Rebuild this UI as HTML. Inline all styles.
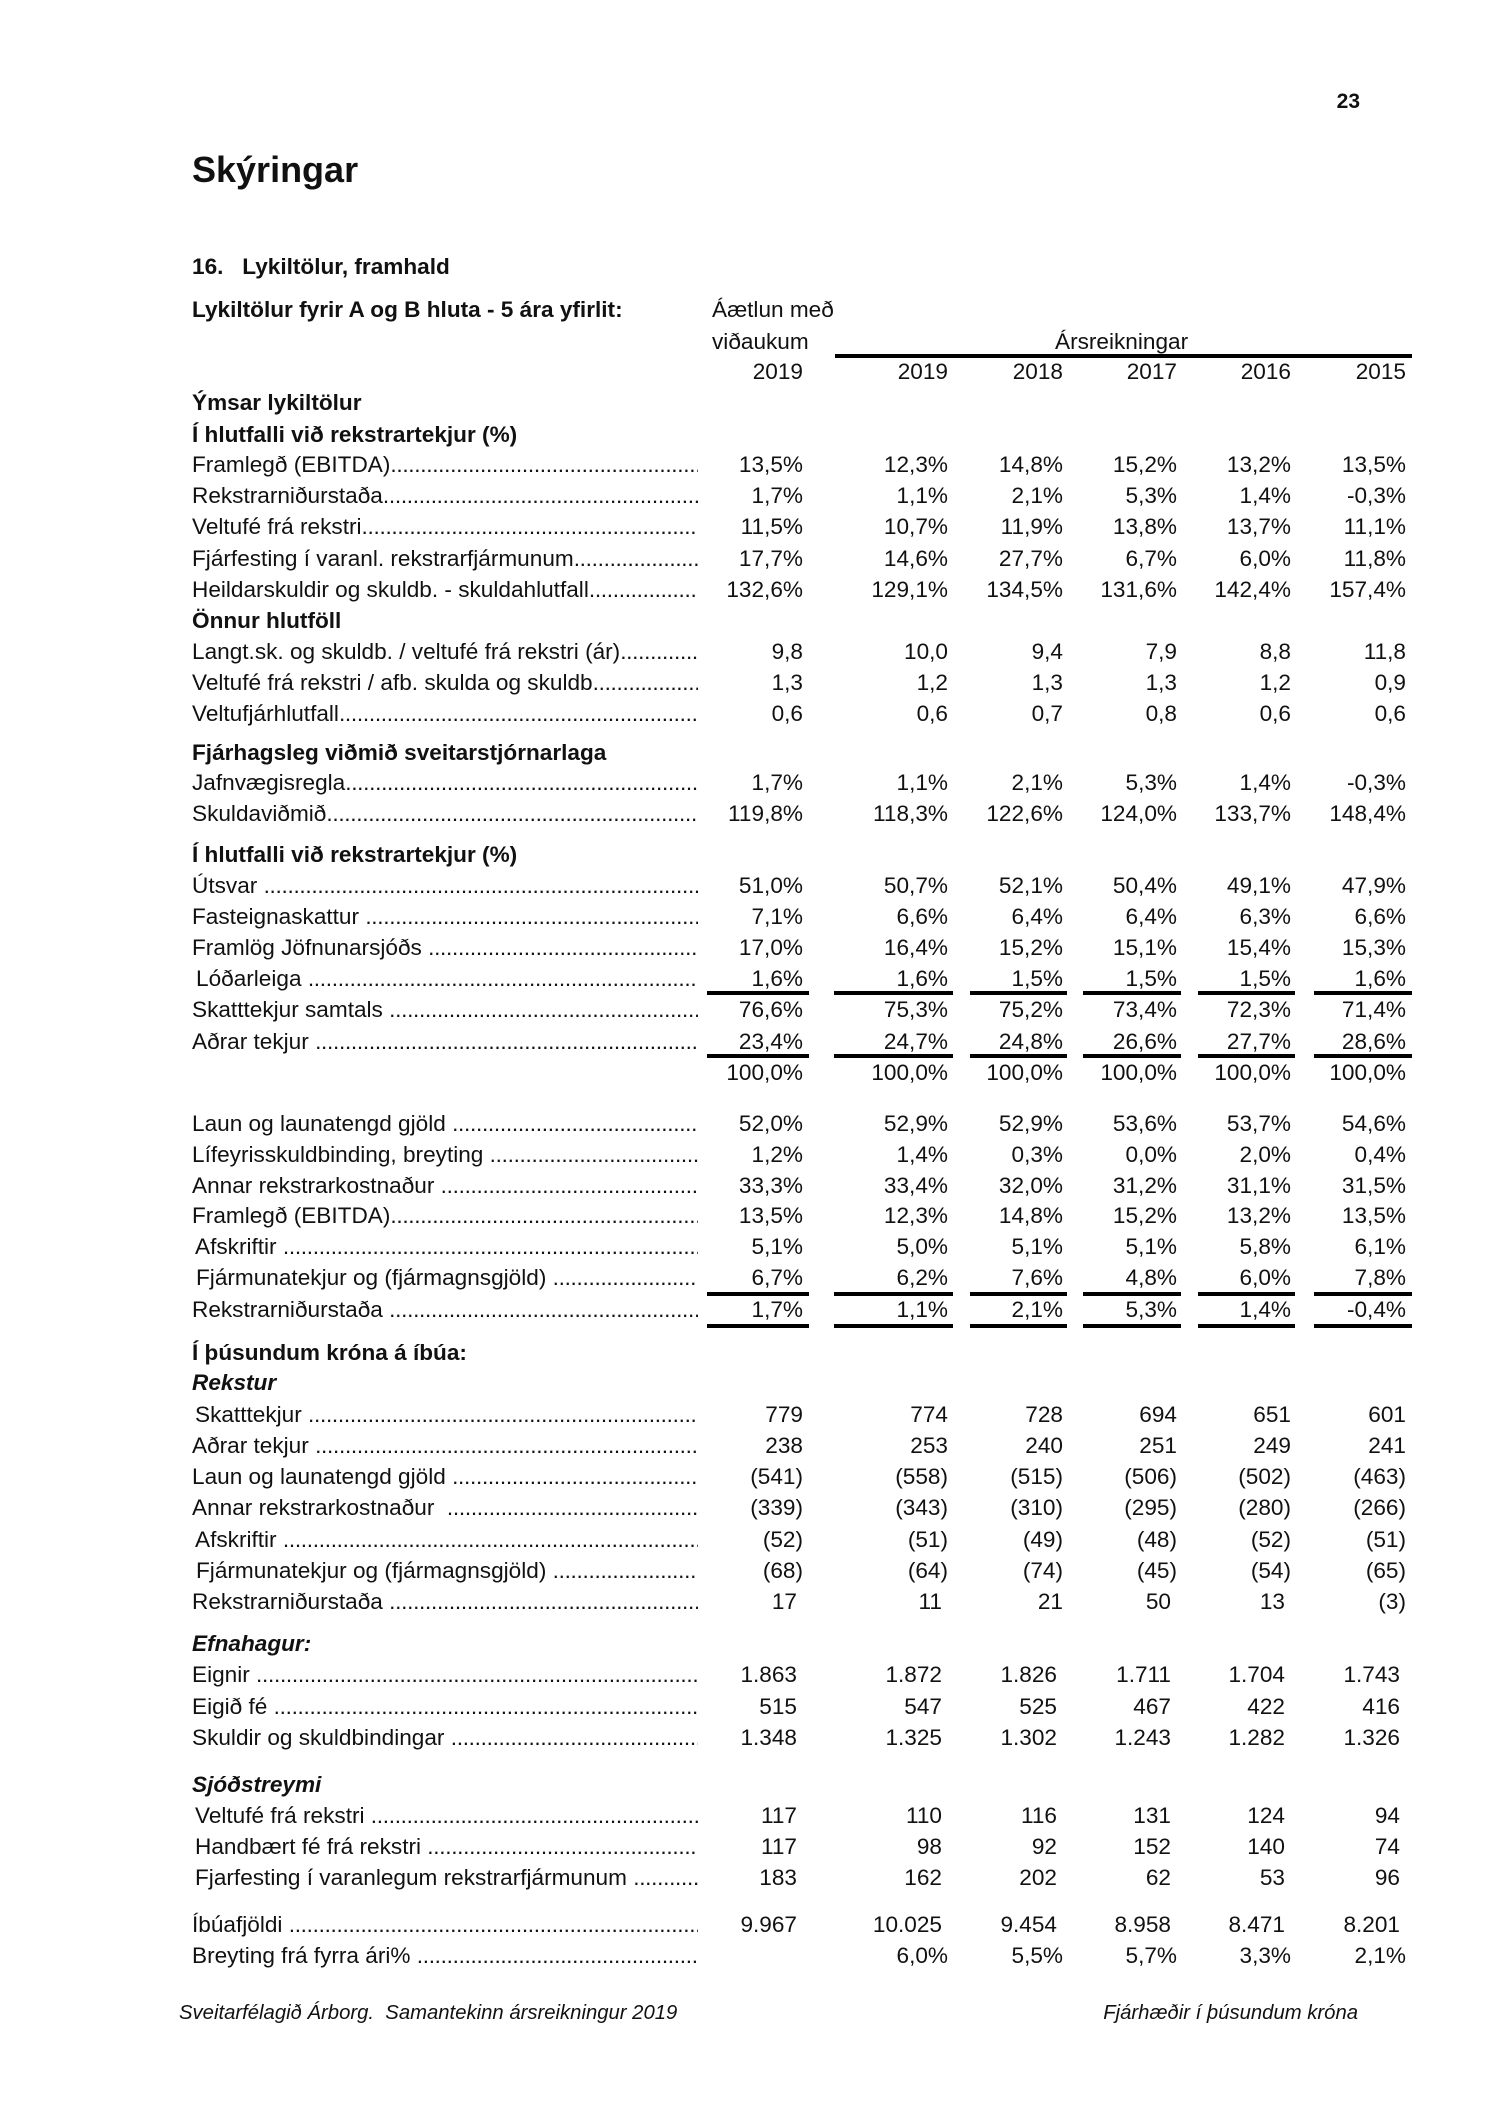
<!DOCTYPE html>
<html><head><meta charset="utf-8"><style>
body{margin:0;background:#fff}
#p{position:relative;width:1500px;height:2122px;background:#fff;font-family:"Liberation Sans",Arial,sans-serif;color:#111;overflow:hidden}
.r{position:absolute;left:0;width:1500px;height:26px;line-height:26px;font-size:22.6px;white-space:nowrap}
.l{position:absolute;left:192px;width:506px;overflow:hidden}
.d::after{content:"................................................................................................................................................................................";letter-spacing:-0.3px}
.b{font-weight:bold;font-size:22.6px}
.bi{font-weight:bold;font-style:italic;font-size:22.6px}
.n{position:absolute}
.c1{right:697px}.c2{right:552px}.c3{right:437px}.c4{right:323px}.c5{right:209px}.c6{right:94px}
.u{position:absolute;height:3.5px;background:#000}
</style></head><body><div id="p">
<div class="r" style="top:89px;font-weight:bold;font-size:21px"><span class="n" style="right:140px">23</span></div>
<div class="r" style="top:150px;height:40px;line-height:40px;font-size:36px;font-weight:bold"><span class="l">Skýringar</span></div>
<div class="r b" style="top:254px"><span class="l">16.&nbsp;&nbsp; Lykiltölur, framhald</span></div>
<div class="r" style="top:297px"><span class="l b">Lykiltölur fyrir A og B hluta - 5 ára yfirlit:</span><span class="n" style="left:712px">Áætlun með</span></div>
<div class="r" style="top:329px"><span class="n" style="left:712px">viðaukum</span><span class="n" style="left:1055px">Ársreikningar</span></div>
<div class="u" style="top:354px;left:835px;width:577px"></div>
<div class="r" style="top:359px"><span class="n c1">2019</span><span class="n c2">2019</span><span class="n c3">2018</span><span class="n c4">2017</span><span class="n c5">2016</span><span class="n c6">2015</span></div>

<div class="r" style="top:390px"><span class="l b">Ýmsar lykiltölur</span></div>
<div class="r" style="top:422px"><span class="l b">Í hlutfalli við rekstrartekjur (%)</span></div>
<div class="r" style="top:452px"><span class="l d">Framlegð (EBITDA)</span><span class="n c1">13,5%</span><span class="n c2">12,3%</span><span class="n c3">14,8%</span><span class="n c4">15,2%</span><span class="n c5">13,2%</span><span class="n c6">13,5%</span></div>
<div class="r" style="top:483px"><span class="l d">Rekstrarniðurstaða</span><span class="n c1">1,7%</span><span class="n c2">1,1%</span><span class="n c3">2,1%</span><span class="n c4">5,3%</span><span class="n c5">1,4%</span><span class="n c6">-0,3%</span></div>
<div class="r" style="top:514px"><span class="l d">Veltufé frá rekstri</span><span class="n c1">11,5%</span><span class="n c2">10,7%</span><span class="n c3">11,9%</span><span class="n c4">13,8%</span><span class="n c5">13,7%</span><span class="n c6">11,1%</span></div>
<div class="r" style="top:546px"><span class="l d">Fjárfesting í varanl. rekstrarfjármunum</span><span class="n c1">17,7%</span><span class="n c2">14,6%</span><span class="n c3">27,7%</span><span class="n c4">6,7%</span><span class="n c5">6,0%</span><span class="n c6">11,8%</span></div>
<div class="r" style="top:577px"><span class="l d">Heildarskuldir og skuldb. - skuldahlutfall</span><span class="n c1">132,6%</span><span class="n c2">129,1%</span><span class="n c3">134,5%</span><span class="n c4">131,6%</span><span class="n c5">142,4%</span><span class="n c6">157,4%</span></div>
<div class="r" style="top:608px"><span class="l b">Önnur hlutföll</span></div>
<div class="r" style="top:639px"><span class="l d">Langt.sk. og skuldb. / veltufé frá rekstri (ár)</span><span class="n c1">9,8</span><span class="n c2">10,0</span><span class="n c3">9,4</span><span class="n c4">7,9</span><span class="n c5">8,8</span><span class="n c6">11,8</span></div>
<div class="r" style="top:670px"><span class="l d">Veltufé frá rekstri / afb. skulda og skuldb</span><span class="n c1">1,3</span><span class="n c2">1,2</span><span class="n c3">1,3</span><span class="n c4">1,3</span><span class="n c5">1,2</span><span class="n c6">0,9</span></div>
<div class="r" style="top:701px"><span class="l d">Veltufjárhlutfall</span><span class="n c1">0,6</span><span class="n c2">0,6</span><span class="n c3">0,7</span><span class="n c4">0,8</span><span class="n c5">0,6</span><span class="n c6">0,6</span></div>
<div class="r" style="top:740px"><span class="l b">Fjárhagsleg viðmið sveitarstjórnarlaga</span></div>
<div class="r" style="top:770px"><span class="l d">Jafnvægisregla</span><span class="n c1">1,7%</span><span class="n c2">1,1%</span><span class="n c3">2,1%</span><span class="n c4">5,3%</span><span class="n c5">1,4%</span><span class="n c6">-0,3%</span></div>
<div class="r" style="top:801px"><span class="l d">Skuldaviðmið</span><span class="n c1">119,8%</span><span class="n c2">118,3%</span><span class="n c3">122,6%</span><span class="n c4">124,0%</span><span class="n c5">133,7%</span><span class="n c6">148,4%</span></div>
<div class="r" style="top:842px"><span class="l b">Í hlutfalli við rekstrartekjur (%)</span></div>
<div class="r" style="top:873px"><span class="l d">Útsvar </span><span class="n c1">51,0%</span><span class="n c2">50,7%</span><span class="n c3">52,1%</span><span class="n c4">50,4%</span><span class="n c5">49,1%</span><span class="n c6">47,9%</span></div>
<div class="r" style="top:904px"><span class="l d">Fasteignaskattur </span><span class="n c1">7,1%</span><span class="n c2">6,6%</span><span class="n c3">6,4%</span><span class="n c4">6,4%</span><span class="n c5">6,3%</span><span class="n c6">6,6%</span></div>
<div class="r" style="top:935px"><span class="l d">Framlög Jöfnunarsjóðs </span><span class="n c1">17,0%</span><span class="n c2">16,4%</span><span class="n c3">15,2%</span><span class="n c4">15,1%</span><span class="n c5">15,4%</span><span class="n c6">15,3%</span></div>
<div class="r" style="top:966px"><span class="l d" style="left:196px;width:502px">Lóðarleiga </span><span class="n c1">1,6%</span><span class="n c2">1,6%</span><span class="n c3">1,5%</span><span class="n c4">1,5%</span><span class="n c5">1,5%</span><span class="n c6">1,6%</span></div>
<div class="u" style="top:991px;left:707px;width:102px"></div><div class="u" style="top:991px;left:834px;width:119px"></div><div class="u" style="top:991px;left:970px;width:97px"></div><div class="u" style="top:991px;left:1083px;width:98px"></div><div class="u" style="top:991px;left:1198px;width:97px"></div><div class="u" style="top:991px;left:1314px;width:98px"></div>
<div class="r" style="top:997px"><span class="l d">Skatttekjur samtals </span><span class="n c1">76,6%</span><span class="n c2">75,3%</span><span class="n c3">75,2%</span><span class="n c4">73,4%</span><span class="n c5">72,3%</span><span class="n c6">71,4%</span></div>
<div class="r" style="top:1029px"><span class="l d">Aðrar tekjur </span><span class="n c1">23,4%</span><span class="n c2">24,7%</span><span class="n c3">24,8%</span><span class="n c4">26,6%</span><span class="n c5">27,7%</span><span class="n c6">28,6%</span></div>
<div class="u" style="top:1054px;left:707px;width:102px"></div><div class="u" style="top:1054px;left:834px;width:119px"></div><div class="u" style="top:1054px;left:970px;width:97px"></div><div class="u" style="top:1054px;left:1083px;width:98px"></div><div class="u" style="top:1054px;left:1198px;width:97px"></div><div class="u" style="top:1054px;left:1314px;width:98px"></div>
<div class="r" style="top:1060px"><span class="n c1">100,0%</span><span class="n c2">100,0%</span><span class="n c3">100,0%</span><span class="n c4">100,0%</span><span class="n c5">100,0%</span><span class="n c6">100,0%</span></div>
<div class="r" style="top:1111px"><span class="l d">Laun og launatengd gjöld </span><span class="n c1">52,0%</span><span class="n c2">52,9%</span><span class="n c3">52,9%</span><span class="n c4">53,6%</span><span class="n c5">53,7%</span><span class="n c6">54,6%</span></div>
<div class="r" style="top:1142px"><span class="l d">Lífeyrisskuldbinding, breyting </span><span class="n c1">1,2%</span><span class="n c2">1,4%</span><span class="n c3">0,3%</span><span class="n c4">0,0%</span><span class="n c5">2,0%</span><span class="n c6">0,4%</span></div>
<div class="r" style="top:1173px"><span class="l d">Annar rekstrarkostnaður </span><span class="n c1">33,3%</span><span class="n c2">33,4%</span><span class="n c3">32,0%</span><span class="n c4">31,2%</span><span class="n c5">31,1%</span><span class="n c6">31,5%</span></div>
<div class="r" style="top:1203px"><span class="l d">Framlegð (EBITDA)</span><span class="n c1">13,5%</span><span class="n c2">12,3%</span><span class="n c3">14,8%</span><span class="n c4">15,2%</span><span class="n c5">13,2%</span><span class="n c6">13,5%</span></div>
<div class="r" style="top:1234px"><span class="l d" style="left:195px;width:503px">Afskriftir </span><span class="n c1">5,1%</span><span class="n c2">5,0%</span><span class="n c3">5,1%</span><span class="n c4">5,1%</span><span class="n c5">5,8%</span><span class="n c6">6,1%</span></div>
<div class="r" style="top:1265px"><span class="l d" style="left:196px;width:502px">Fjármunatekjur og (fjármagnsgjöld) </span><span class="n c1">6,7%</span><span class="n c2">6,2%</span><span class="n c3">7,6%</span><span class="n c4">4,8%</span><span class="n c5">6,0%</span><span class="n c6">7,8%</span></div>
<div class="u" style="top:1292px;left:707px;width:102px"></div><div class="u" style="top:1292px;left:834px;width:119px"></div><div class="u" style="top:1292px;left:970px;width:97px"></div><div class="u" style="top:1292px;left:1083px;width:98px"></div><div class="u" style="top:1292px;left:1198px;width:97px"></div><div class="u" style="top:1292px;left:1314px;width:98px"></div>
<div class="r" style="top:1297px"><span class="l d">Rekstrarniðurstaða </span><span class="n c1">1,7%</span><span class="n c2">1,1%</span><span class="n c3">2,1%</span><span class="n c4">5,3%</span><span class="n c5">1,4%</span><span class="n c6">-0,4%</span></div>
<div class="u" style="top:1324px;left:707px;width:102px"></div><div class="u" style="top:1324px;left:834px;width:119px"></div><div class="u" style="top:1324px;left:970px;width:97px"></div><div class="u" style="top:1324px;left:1083px;width:98px"></div><div class="u" style="top:1324px;left:1198px;width:97px"></div><div class="u" style="top:1324px;left:1314px;width:98px"></div>

<div class="r" style="top:1340px"><span class="l b">Í þúsundum króna á íbúa:</span></div>
<div class="r" style="top:1370px"><span class="l bi">Rekstur</span></div>
<div class="r" style="top:1402px"><span class="l d" style="left:195px;width:503px">Skatttekjur </span><span class="n c1">779</span><span class="n c2">774</span><span class="n c3">728</span><span class="n c4">694</span><span class="n c5">651</span><span class="n c6">601</span></div>
<div class="r" style="top:1433px"><span class="l d">Aðrar tekjur </span><span class="n c1">238</span><span class="n c2">253</span><span class="n c3">240</span><span class="n c4">251</span><span class="n c5">249</span><span class="n c6">241</span></div>
<div class="r" style="top:1464px"><span class="l d">Laun og launatengd gjöld </span><span class="n c1">(541)</span><span class="n c2">(558)</span><span class="n c3">(515)</span><span class="n c4">(506)</span><span class="n c5">(502)</span><span class="n c6">(463)</span></div>
<div class="r" style="top:1495px"><span class="l d">Annar rekstrarkostnaður &nbsp;</span><span class="n c1">(339)</span><span class="n c2">(343)</span><span class="n c3">(310)</span><span class="n c4">(295)</span><span class="n c5">(280)</span><span class="n c6">(266)</span></div>
<div class="r" style="top:1527px"><span class="l d" style="left:195px;width:503px">Afskriftir </span><span class="n c1">(52)</span><span class="n c2">(51)</span><span class="n c3">(49)</span><span class="n c4">(48)</span><span class="n c5">(52)</span><span class="n c6">(51)</span></div>
<div class="r" style="top:1558px"><span class="l d" style="left:196px;width:502px">Fjármunatekjur og (fjármagnsgjöld) </span><span class="n c1">(68)</span><span class="n c2">(64)</span><span class="n c3">(74)</span><span class="n c4">(45)</span><span class="n c5">(54)</span><span class="n c6">(65)</span></div>
<div class="r" style="top:1589px"><span class="l d">Rekstrarniðurstaða </span><span class="n c1" style="right:703px">17</span><span class="n c2" style="right:558px">11</span><span class="n c3">21</span><span class="n c4" style="right:329px">50</span><span class="n c5" style="right:215px">13</span><span class="n c6">(3)</span></div>
<div class="r" style="top:1631px"><span class="l bi">Efnahagur:</span></div>
<div class="r" style="top:1662px"><span class="l d">Eignir </span><span class="n c1" style="right:703px">1.863</span><span class="n c2" style="right:558px">1.872</span><span class="n c3" style="right:443px">1.826</span><span class="n c4" style="right:329px">1.711</span><span class="n c5" style="right:215px">1.704</span><span class="n c6" style="right:100px">1.743</span></div>
<div class="r" style="top:1694px"><span class="l d">Eigið fé </span><span class="n c1" style="right:703px">515</span><span class="n c2" style="right:558px">547</span><span class="n c3" style="right:443px">525</span><span class="n c4" style="right:329px">467</span><span class="n c5" style="right:215px">422</span><span class="n c6" style="right:100px">416</span></div>
<div class="r" style="top:1725px"><span class="l d">Skuldir og skuldbindingar </span><span class="n c1" style="right:703px">1.348</span><span class="n c2" style="right:558px">1.325</span><span class="n c3" style="right:443px">1.302</span><span class="n c4" style="right:329px">1.243</span><span class="n c5" style="right:215px">1.282</span><span class="n c6" style="right:100px">1.326</span></div>
<div class="r" style="top:1772px"><span class="l bi">Sjóðstreymi</span></div>
<div class="r" style="top:1803px"><span class="l d" style="left:195px;width:503px">Veltufé frá rekstri </span><span class="n c1" style="right:703px">117</span><span class="n c2" style="right:558px">110</span><span class="n c3" style="right:443px">116</span><span class="n c4" style="right:329px">131</span><span class="n c5" style="right:215px">124</span><span class="n c6" style="right:100px">94</span></div>
<div class="r" style="top:1834px"><span class="l d" style="left:195px;width:503px">Handbært fé frá rekstri </span><span class="n c1" style="right:703px">117</span><span class="n c2" style="right:558px">98</span><span class="n c3" style="right:443px">92</span><span class="n c4" style="right:329px">152</span><span class="n c5" style="right:215px">140</span><span class="n c6" style="right:100px">74</span></div>
<div class="r" style="top:1865px"><span class="l d" style="left:195px;width:503px">Fjarfesting í varanlegum rekstrarfjármunum </span><span class="n c1" style="right:703px">183</span><span class="n c2" style="right:558px">162</span><span class="n c3" style="right:443px">202</span><span class="n c4" style="right:329px">62</span><span class="n c5" style="right:215px">53</span><span class="n c6" style="right:100px">96</span></div>
<div class="r" style="top:1912px"><span class="l d">Íbúafjöldi </span><span class="n c1" style="right:703px">9.967</span><span class="n c2" style="right:558px">10.025</span><span class="n c3" style="right:443px">9.454</span><span class="n c4" style="right:329px">8.958</span><span class="n c5" style="right:215px">8.471</span><span class="n c6" style="right:100px">8.201</span></div>
<div class="r" style="top:1943px"><span class="l d">Breyting frá fyrra ári% </span><span class="n c2">6,0%</span><span class="n c3">5,5%</span><span class="n c4">5,7%</span><span class="n c5">3,3%</span><span class="n c6">2,1%</span></div>
<div class="r" style="top:2000px;font-style:italic;font-size:20.3px"><span class="n" style="left:179px">Sveitarfélagið Árborg.&nbsp; Samantekinn ársreikningur 2019</span><span class="n" style="right:142px">Fjárhæðir í þúsundum króna</span></div>
</div></body></html>
